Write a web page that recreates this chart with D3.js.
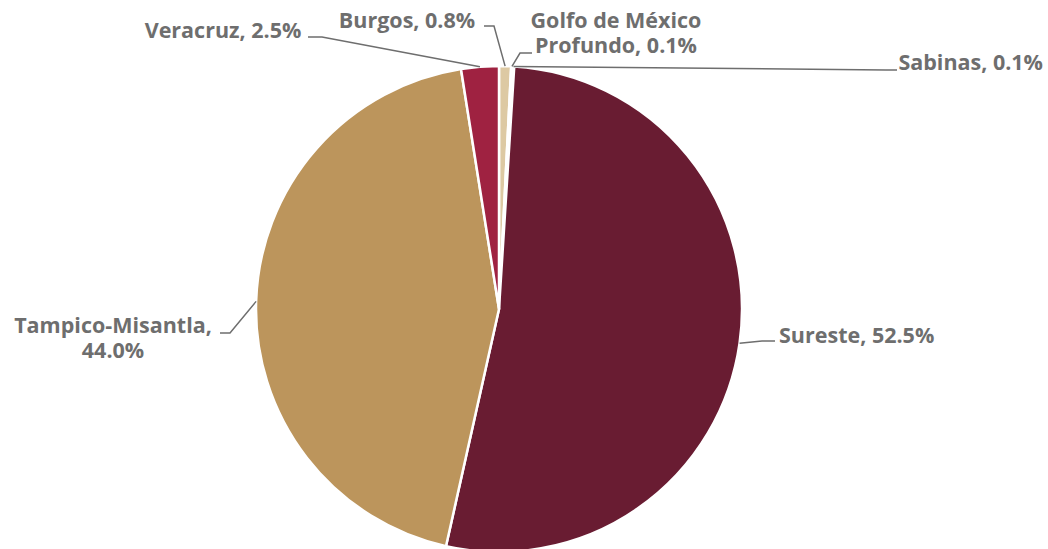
<!DOCTYPE html>
<html>
<head>
<meta charset="utf-8">
<script src="https://cdn.jsdelivr.net/npm/d3@7/dist/d3.min.js"></script>
<style>
  html, body { margin: 0; padding: 0; background: #ffffff; }
  svg { display: block; }
  .lbl { font-family: "Open Sans", "DejaVu Sans", sans-serif; font-weight: 700; font-size: 21.5px; fill: #6e6e6e; }
</style>
</head>
<body>
<svg id="chart" width="1048" height="549"></svg>
<script>
// Regional shares (%), in drawing order clockwise from 12 o'clock
const categories = ["Burgos", "Golfo de México Profundo", "Sabinas", "Sureste", "Tampico-Misantla", "Veracruz"];
const values = [0.8, 0.1, 0.1, 52.5, 44.0, 2.5];
const sliceColors = ["#DDC9A3", "#235B4E", "#98989A", "#691C32", "#BC955C", "#9F2241"];

// Label text lines for each slice
const labelLines = [
  ["Burgos, 0.8%"],
  ["Golfo de México", "Profundo, 0.1%"],
  ["Sabinas, 0.1%"],
  ["Sureste, 52.5%"],
  ["Tampico-Misantla,", "44.0%"],
  ["Veracruz, 2.5%"]
];

const width = 1048, height = 549;
const cx = 499, cy = 309, radius = 243;

const svg = d3.select("#chart");
const g = svg.append("g").attr("transform", `translate(${cx},${cy})`);

const pie = d3.pie().sort(null).value(d => d.value);
const arc = d3.arc().innerRadius(0).outerRadius(radius);

const data = categories.map((c, i) => ({ name: c, value: values[i], color: sliceColors[i], lines: labelLines[i] }));
const arcs = pie(data);

g.selectAll("path.slice")
  .data(arcs)
  .join("path")
  .attr("class", "slice")
  .attr("d", arc)
  .attr("fill", d => d.data.color)
  .attr("stroke", "#ffffff")
  .attr("stroke-width", 2.5)
  .attr("stroke-linejoin", "round");

// Label placement: text anchor point, alignment, and leader elbow (absolute page coords)
const labelLayout = {
  "Burgos":                   { x: 407, y: 28, anchor: "middle", elbow: [[494, 26], [484, 26]] },
  "Golfo de México Profundo": { x: 616, y: 28, anchor: "middle", elbow: [[520, 53], [532, 53]] },
  "Sabinas":                  { x: 1043, y: 70, anchor: "end",   elbow: [[886, 70], [897, 70]] },
  "Sureste":                  { x: 779, y: 343, anchor: "start", elbow: [[762, 341], [775, 341]] },
  "Tampico-Misantla":         { x: 113, y: 333, anchor: "middle", elbow: [[230, 333], [220, 333]] },
  "Veracruz":                 { x: 223, y: 38, anchor: "middle", elbow: [[322, 37], [308, 37]] }
};

const lineGap = 25;

arcs.forEach(a => {
  const L = labelLayout[a.data.name];
  const mid = (a.startAngle + a.endAngle) / 2;
  const sx = cx + radius * Math.sin(mid);
  const sy = cy - radius * Math.cos(mid);
  const pts = [[sx, sy]].concat(L.elbow);
  svg.append("path")
    .attr("d", d3.line()(pts))
    .attr("fill", "none")
    .attr("stroke", "#6e6e6e")
    .attr("stroke-width", 1.5);

  a.data.lines.forEach((ln, i) => {
    svg.append("text")
      .attr("class", "lbl")
      .attr("text-anchor", L.anchor)
      .attr("x", L.x)
      .attr("y", L.y + i * lineGap)
      .text(ln);
  });
});
</script>
</body>
</html>
